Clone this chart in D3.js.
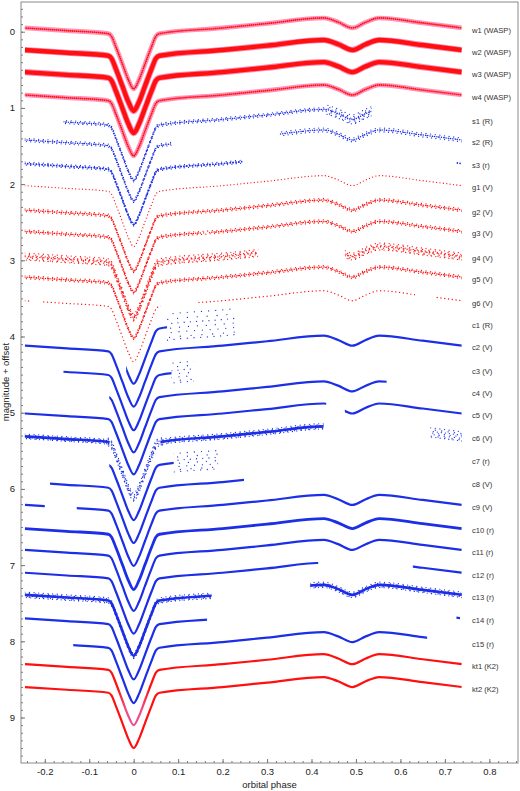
<!DOCTYPE html>
<html>
<head>
<meta charset="utf-8">
<script src="https://cdn.jsdelivr.net/npm/d3@7"></script>
<style>
  body { margin: 0; background: #fff; }
  text { font-family: "Liberation Sans", Arial, sans-serif; }
</style>
</head>
<body>
<div class="demo"></div>
<script>
const w = 520, h = 791;
const RED = '#ff1010', PINK = '#ff86b0', BLUE = '#1c2ee6';

// eclipse profile (kt2): phase vs change in magnitude
const shapePhase = [-0.245, -0.15, -0.057, -0.05, -0.04, -0.025, -0.012, 0, 0.012, 0.025, 0.04, 0.05, 0.058, 0.2, 0.3, 0.428, 0.46, 0.492, 0.522, 0.552, 0.65, 0.738];
const shapeMag   = [0, 0.036, 0.075, 0.11, 0.25, 0.48, 0.68, 0.80, 0.68, 0.48, 0.25, 0.11, 0.075, 0, -0.058, -0.131, -0.075, 0, -0.075, -0.131, -0.065, 0];

const names = ['w1 (WASP)', 'w2 (WASP)', 'w3 (WASP)', 'w4 (WASP)', 's1 (R)', 's2 (R)', 's3 (r)',
  'g1 (V)', 'g2 (V)', 'g3 (V)', 'g4 (V)', 'g5 (V)', 'g6 (V)',
  'c1 (R)', 'c2 (V)', 'c3 (V)', 'c4 (V)', 'c5 (V)', 'c6 (V)', 'c7 (r)', 'c8 (V)', 'c9 (V)',
  'c10 (r)', 'c11 (r)', 'c12 (r)', 'c13 (r)', 'c14 (r)', 'c15 (r)', 'kt1 (K2)', 'kt2 (K2)'];

const offsets = [-0.05, 0.24, 0.53, 0.83, 1.15, 1.42, 1.73,
  2.02, 2.34, 2.62, 2.95, 3.22, 3.53,
  3.82, 4.12, 4.43, 4.72, 5.01, 5.31, 5.61, 5.91, 6.21,
  6.52, 6.80, 7.10, 7.39, 7.70, 8.01, 8.30, 8.60];

const colours = ['w', 'w', 'w', 'w', 'b', 'b', 'b', 'r', 'r', 'r', 'r', 'r', 'r',
  'b', 'b', 'b', 'b', 'b', 'b', 'b', 'b', 'b', 'b', 'b', 'b', 'b', 'b', 'b', 'r', 'r'];

const kinds = ['waspPale', 'waspBold', 'waspBold', 'waspPale', 'dots', 'dots', 'dense',
  'dotsFine', 'dots', 'dots', 'dotsSparse', 'dots', 'dotsSparse',
  'line', 'line', 'line', 'line', 'line', 'band', 'line', 'line', 'line',
  'thick', 'line', 'line', 'band', 'line', 'line', 'k2', 'k2'];

// phase coverage of each light curve
const spans = [
  [[-0.245, 0.738]], [[-0.245, 0.738]], [[-0.245, 0.738]], [[-0.245, 0.738]],
  [[-0.158, 0.535]],
  [[-0.245, 0.085], [0.329, 0.738]],
  [[-0.245, 0.245], [0.726, 0.736]],
  [[-0.245, 0.738]], [[-0.245, 0.738]],
  [[-0.245, 0.152], [0.172, 0.738]],
  [[-0.245, 0.28], [0.475, 0.738]],
  [[-0.245, 0.738]],
  [[-0.245, -0.233], [-0.207, 0.06], [0.145, 0.633], [0.678, 0.738]],
  [[-0.017, 0.075]],
  [[-0.245, 0.738]],
  [[-0.158, 0.085]],
  [[-0.055, 0.569]],
  [[-0.245, 0.433], [0.475, 0.738]],
  [[-0.245, -0.055], [0.06, 0.427]],
  [[-0.055, 0.09]],
  [[-0.188, 0.248]],
  [[-0.245, -0.2], [-0.128, 0.738]],
  [[-0.245, 0.738]], [[-0.245, 0.738]],
  [[-0.245, 0.415], [0.628, 0.738]],
  [[-0.245, 0.175], [0.397, 0.738]],
  [[-0.245, 0.165], [0.726, 0.734]],
  [[-0.136, 0.66]],
  [[-0.245, 0.738]], [[-0.245, 0.738]]
];

// scattered stretches: curve, from, to, spread (mag)
const clouds = [
  [4, -0.158, 0.43, 0.02], [4, 0.43, 0.535, 0.06],
  [5, -0.245, 0.085, 0.02], [5, 0.329, 0.738, 0.025],
  [6, -0.245, 0.245, 0.02],
  [8, -0.245, 0.738, 0.02], [9, -0.245, 0.738, 0.02], [11, -0.245, 0.738, 0.02],
  [10, -0.245, 0.28, 0.045], [10, 0.475, 0.738, 0.045],
  [13, 0.075, 0.23, 0.17],
  [15, 0.085, 0.135, 0.13],
  [18, -0.245, -0.055, 0.03], [18, 0.06, 0.427, 0.035],
  [18, -0.06, 0.065, 0.05], [18, 0.667, 0.738, 0.06],
  [19, 0.09, 0.19, 0.12],
  [25, -0.245, 0.175, 0.035], [25, 0.397, 0.738, 0.035]
];

const looks = {
  waspPale: [{c: PINK, w: 4.6, o: 0.9}, {c: RED, w: 1.8, d: '0 2', r: 1}],
  waspBold: [{c: PINK, w: 6.2}, {c: RED, w: 4.4}],
  dots: [{w: 1.5, d: '0 2.3', r: 1}],
  dotsFine: [{w: 1.3, d: '0 3.4', r: 1}],
  dotsSparse: [{w: 1.4, d: '0 3.8', r: 1}],
  dense: [{w: 1.9, d: '0 2.9', r: 1}],
  line: [{w: 2.2}],
  thick: [{w: 2.8}],
  band: [{w: 2.6}],
  k2: [{w: 2.2}]
};

const x = d3.scaleLinear().domain([-0.2535, 0.8645]).range([21, 518]);
const y = d3.scaleLinear().domain([-0.39, 9.597]).range([2, 763]);

const svg = d3.select('.demo').append('svg').attr('width', w).attr('height', h);
const defs = svg.append('defs');

// kt1 turns pinkish through the eclipse
const grad = defs.append('linearGradient').attr('id', 'ktgrad')
  .attr('gradientUnits', 'userSpaceOnUse')
  .attr('x1', x(-0.06)).attr('x2', x(0.06)).attr('y1', 0).attr('y2', 0);
[[0, RED], [0.2, RED], [0.35, '#ec4f8c'], [0.65, '#ec4f8c'], [0.8, RED], [1, RED]].forEach(s =>
  grad.append('stop').attr('offset', s[0]).attr('stop-color', s[1]));

const line = d3.line().x(d => x(d.p)).y(d => y(d.m)).curve(d3.curveMonotoneX);
const pts = off => shapePhase.map((p, k) => ({p: p, m: shapeMag[k] + off}));

let clipId = 0;
function clipFor(ranges) {
  const id = 'clip' + (clipId++);
  const cp = defs.append('clipPath').attr('id', id);
  ranges.forEach(r => cp.append('rect')
    .attr('x', x(r[0])).attr('width', Math.max(x(r[1]) - x(r[0]), 1.5))
    .attr('y', 0).attr('height', h));
  return 'url(#' + id + ')';
}

const curves = svg.append('g');

names.forEach((n, i) => {
  const col = colours[i] === 'b' ? BLUE : RED;
  const g = curves.append('g').attr('clip-path', clipFor(spans[i]));
  looks[kinds[i]].forEach(s => {
    let stroke = s.c || col;
    if (i === 28) stroke = 'url(#ktgrad)';
    g.append('path')
      .attr('d', line(pts(offsets[i])))
      .attr('fill', 'none')
      .attr('stroke', stroke)
      .attr('stroke-width', s.w)
      .attr('stroke-opacity', s.o || 1)
      .attr('stroke-linecap', s.r ? 'round' : 'butt')
      .attr('stroke-dasharray', s.d || null);
  });
});

// scatter drawn as staggered rows of dots with unequal spacing
const rows = [-1, -0.6, -0.25, 0.1, 0.45, 0.8, 1];
const gaps = [3.1, 4.3, 2.7, 3.9, 3.4, 4.7, 2.9];
clouds.forEach(c => {
  const i = c[0];
  const col = colours[i] === 'b' ? BLUE : RED;
  const g = curves.append('g').attr('clip-path', clipFor([[c[1], c[2]]]));
  const wide = c[3] > 0.1;
  const use = c[3] < 0.03 ? [0, 3, 6] : d3.range(rows.length);
  use.forEach(j => {
    g.append('path')
      .attr('d', line(pts(offsets[i] + rows[j] * c[3])))
      .attr('fill', 'none')
      .attr('stroke', col)
      .attr('stroke-width', 1.3)
      .attr('stroke-linecap', 'round')
      .attr('stroke-dasharray', '0 ' + (gaps[j] * (wide ? 2.3 : 1.5)))
      .attr('stroke-dashoffset', j * 1.9);
  });
});

// curve labels
svg.append('g').selectAll('text').data(names).enter()
  .append('text')
  .attr('x', 472)
  .attr('y', (d, i) => y(offsets[i]) + 2.3)
  .attr('dominant-baseline', 'central')
  .attr('font-size', '7.6px')
  .attr('fill', '#333')
  .text(d => d);

// axes
const xMinor = d3.axisBottom(x).tickValues(d3.range(-0.24, 0.865, 0.02)).tickSize(-2).tickFormat('');
const yMinor = d3.axisLeft(y).tickValues(d3.range(-0.3, 9.6, 0.1)).tickSize(-2).tickFormat('');
const xAxis = d3.axisBottom(x).tickValues([-0.2, -0.1, 0, 0.1, 0.2, 0.3, 0.4, 0.5, 0.6, 0.7, 0.8])
  .tickSize(-4).tickPadding(5).tickFormat(d => d3.format('.1f')(d).replace('0.0', '0').replace('−', '-'));
const yAxis = d3.axisLeft(y).tickValues([0, 1, 2, 3, 4, 5, 6, 7, 8, 9]).tickSize(-4).tickPadding(6);

[xMinor, xAxis].forEach(a => svg.append('g').attr('class', 'axis')
  .attr('transform', 'translate(0,' + 763 + ')').call(a));
[yMinor, yAxis].forEach(a => svg.append('g').attr('class', 'axis')
  .attr('transform', 'translate(21,0)').call(a));

svg.selectAll('.axis .domain').remove();
svg.selectAll('.axis line').attr('stroke', '#777');
svg.selectAll('.axis text').attr('font-size', '9.5px').attr('fill', '#222')
  .attr('font-family', '"Liberation Sans", Arial, sans-serif');

svg.append('rect').attr('x', 21).attr('y', 2).attr('width', 497).attr('height', 761)
  .attr('fill', 'none').attr('stroke', '#8a8a8a').attr('stroke-width', 1);

svg.append('text').attr('x', 269.5).attr('y', 788)
  .attr('text-anchor', 'middle').attr('font-size', '9.5px').attr('fill', '#222')
  .text('orbital phase');

svg.append('text')
  .attr('transform', 'translate(9,382) rotate(-90)')
  .attr('text-anchor', 'middle').attr('font-size', '9.5px').attr('fill', '#222')
  .text('magnitude + offset');
</script>
</body>
</html>
